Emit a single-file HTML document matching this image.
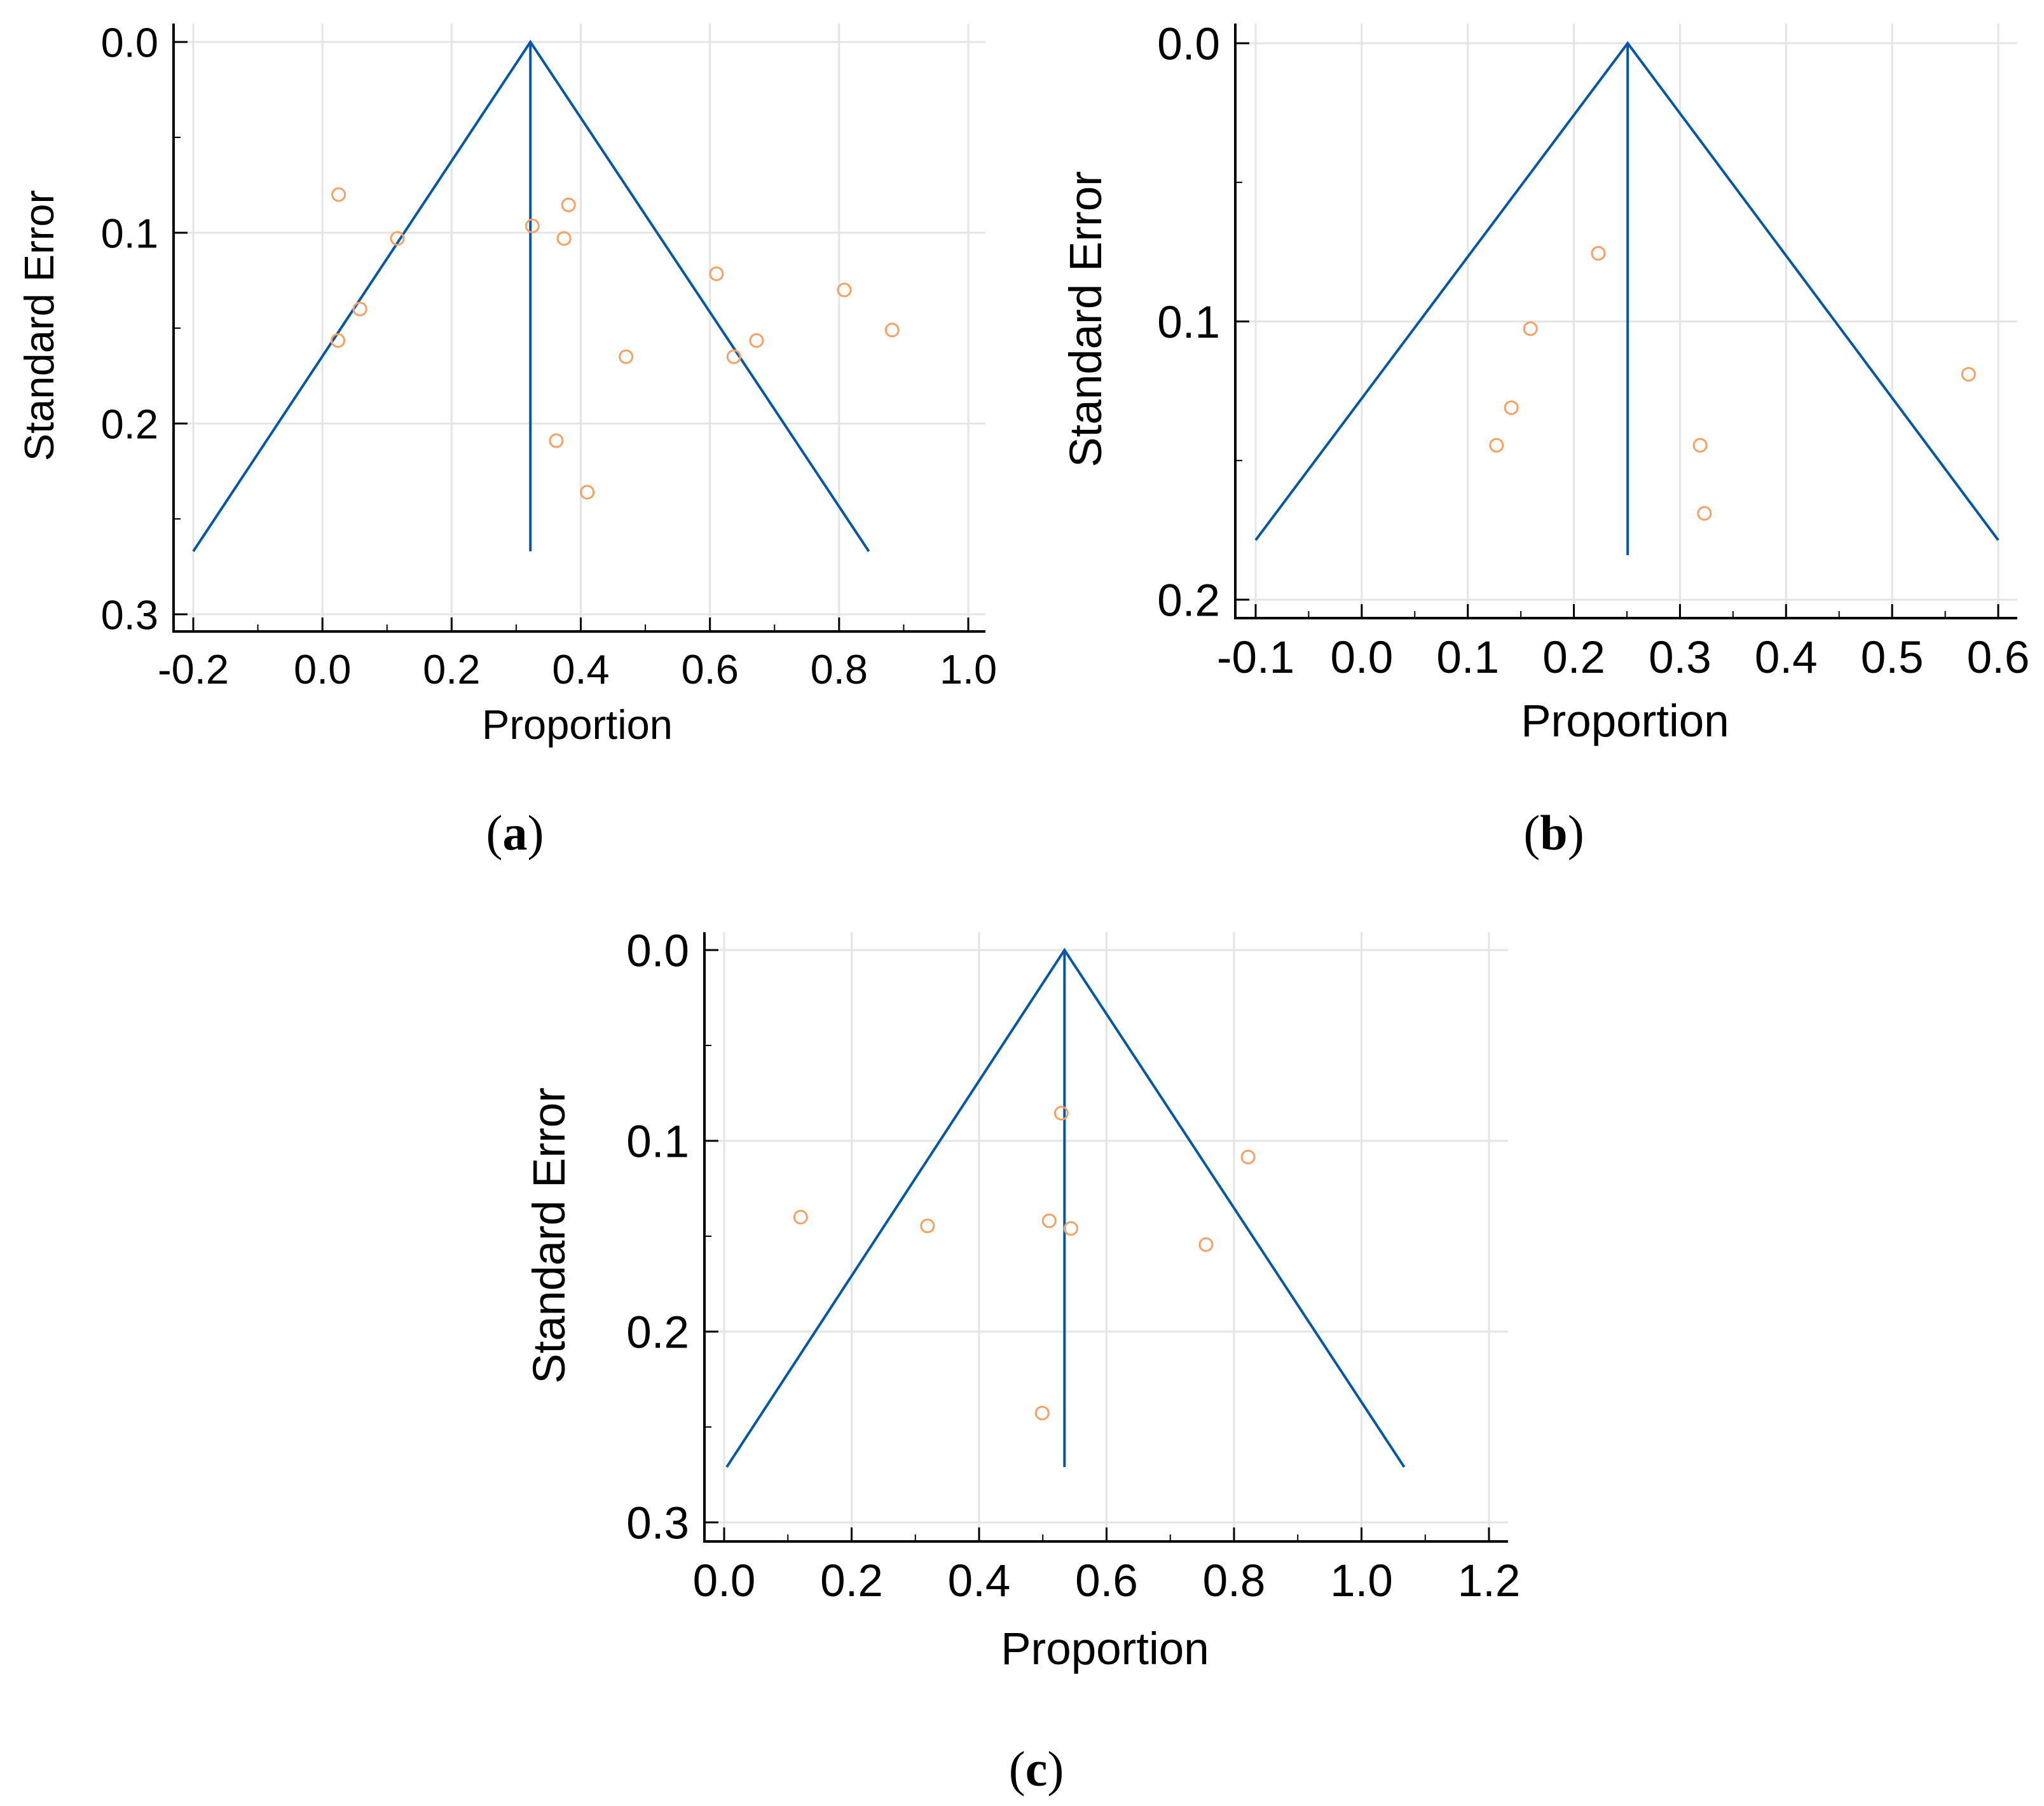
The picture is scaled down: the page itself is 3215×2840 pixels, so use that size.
<!DOCTYPE html>
<html><head><meta charset="utf-8"><style>
html,body{margin:0;padding:0;background:#fff;}
svg{display:block;}
text{font-family:"Liberation Sans",sans-serif;fill:#000;}
.cap{font-family:"Liberation Serif",serif;font-size:78px;}
</style></head><body>
<svg id="fig" width="3215" height="2840" viewBox="0 0 3215 2840" xmlns="http://www.w3.org/2000/svg">
<text class="cap" x="810" y="1336" text-anchor="middle">(<tspan font-weight="bold">a</tspan>)</text>
<text class="cap" x="2444" y="1336" text-anchor="middle">(<tspan font-weight="bold">b</tspan>)</text>
<text class="cap" x="1630" y="2808" text-anchor="middle">(<tspan font-weight="bold">c</tspan>)</text>
</svg>
<script>
// Panel (a)
const aXTicks = ["-0.2","0.0","0.2","0.4","0.6","0.8","1.0"];
const aYTicks = ["0.0","0.1","0.2","0.3"];
const aPropX = [0.025,0.381,0.325,0.374,0.116,0.610,0.808,0.058,0.882,0.024,0.672,0.470,0.637,0.362,0.410];
const aSeY = [0.080,0.0854,0.0964,0.103,0.103,0.1215,0.130,0.140,0.151,0.1565,0.1565,0.165,0.165,0.209,0.236];
const aPooled = [0.322];
const aFunnel = [-0.2, 0.846, 0.267];
// Panel (b)
const bXTicks = ["-0.1","0.0","0.1","0.2","0.3","0.4","0.5","0.6"];
const bYTicks = ["0.0","0.1","0.2"];
const bPropX = [0.223,0.159,0.141,0.127,0.319,0.323,0.572];
const bSeY = [0.0755,0.1026,0.131,0.1445,0.1445,0.169,0.119];
const bPooled = [0.2507];
const bFunnel = [-0.1, 0.6, 0.1786];
// Panel (c)
const cXTicks = ["0.0","0.2","0.4","0.6","0.8","1.0","1.2"];
const cYTicks = ["0.0","0.1","0.2","0.3"];
const cPropX = [0.529,0.822,0.120,0.319,0.510,0.544,0.756,0.499];
const cSeY = [0.0855,0.1085,0.140,0.1446,0.1419,0.1459,0.1544,0.2427];
const cPooled = [0.534];
const cFunnel = [0.004, 1.067, 0.271];

const NS="http://www.w3.org/2000/svg";
const svg=document.getElementById('fig');
function mk(tag,attrs,parent){const e=document.createElementNS(NS,tag);for(const k in attrs)e.setAttribute(k,attrs[k]);(parent||svg).appendChild(e);return e;}

function panel(id,cfg,xTicks,yTicks,px,py,pooled,funnel){
  const g=mk('g',{});
  
  
  const xv=xTicks.map(Number), yv=yTicks.map(Number);
  const x0=xv[0], x1=xv[xv.length-1], y0=yv[0], y1=yv[yv.length-1];
  const X=v=>cfg.px0+(v-x0)/(x1-x0)*(cfg.px1-cfg.px0);
  const Y=v=>cfg.py0+(v-y0)/(y1-y0)*(cfg.py1-cfg.py0);
  const fs=cfg.fs;
  xv.forEach(v=>{const l=mk('line',{x1:X(v),x2:X(v),y1:cfg.top,y2:cfg.axY,stroke:'#e4e4e4','stroke-width':3},g);
    
    });
  yv.forEach(v=>{const l=mk('line',{x1:cfg.axX,x2:cfg.right,y1:Y(v),y2:Y(v),stroke:'#e4e4e4','stroke-width':3},g);
    
    });
  const ax=mk('path',{d:`M${cfg.axX},${cfg.top} V${cfg.axY} H${cfg.right}`,fill:'none',stroke:'#000','stroke-width':4},g);
  
  
  xv.forEach((v,i)=>{
    mk('line',{x1:X(v),x2:X(v),y1:cfg.axY,y2:cfg.axY-22,stroke:'#000','stroke-width':3},g);
    if(i<xv.length-1){const m=(v+xv[i+1])/2;mk('line',{x1:X(m),x2:X(m),y1:cfg.axY,y2:cfg.axY-11,stroke:'#000','stroke-width':2},g);}
    const t=mk('text',{x:X(v),y:cfg.axY+cfg.xlOff,'text-anchor':'middle','font-size':fs},g);t.textContent=xTicks[i];
    
    
  });
  yv.forEach((v,i)=>{
    mk('line',{x1:cfg.axX,x2:cfg.axX+22,y1:Y(v),y2:Y(v),stroke:'#000','stroke-width':3},g);
    if(i<yv.length-1){const m=(v+yv[i+1])/2;mk('line',{x1:cfg.axX,x2:cfg.axX+11,y1:Y(m),y2:Y(m),stroke:'#000','stroke-width':2},g);}
    const t=mk('text',{x:cfg.axX-24,y:Y(v)+fs*0.36,'text-anchor':'end','font-size':fs},g);t.textContent=yTicks[i];
    
    
  });
  const xt=mk('text',{x:cfg.xtx,y:cfg.xty,'text-anchor':'middle','font-size':fs},g);xt.textContent='Proportion';
  
  
  const yt=mk('text',{x:0,y:0,'text-anchor':'middle','font-size':fs,transform:`translate(${cfg.ytx},${cfg.yty}) rotate(-90)`},g);yt.textContent='Standard Error';
  
  
  const p=pooled[0];
  const f=mk('polyline',{points:`${X(funnel[0])},${Y(funnel[2])} ${X(p)},${Y(0)} ${X(funnel[1])},${Y(funnel[2])}`,fill:'none',stroke:'#0457a5','stroke-width':4},g);
  
  
  const vl=mk('line',{x1:X(p),x2:X(p),y1:Y(0),y2:Y(cfg.vEnd),stroke:'#0457a5','stroke-width':4},g);
  
  
  px.forEach((v,i)=>{
    const c=mk('circle',{cx:X(v),cy:Y(py[i]),r:10,fill:'none',stroke:'#f7a064','stroke-width':3},g);
    
    
  });
}
panel('a',{fs:65,xlOff:82,px0:304,px1:1523,py0:66,py1:966,axX:273,axY:993,top:37,right:1550,xtx:908,xty:1162,ytx:84,yty:512,vEnd:0.267},aXTicks,aYTicks,aPropX,aSeY,aPooled,aFunnel);
panel('b',{fs:71,xlOff:86,px0:1975,px1:3143,py0:68,py1:943,axX:1943,axY:972,top:37,right:3173,xtx:2556,xty:1158,ytx:1732,yty:502,vEnd:0.184},bXTicks,bYTicks,bPropX,bSeY,bPooled,bFunnel);
panel('c',{fs:71,xlOff:86,px0:1139,px1:2342,py0:1494,py1:2394,axX:1108,axY:2424,top:1466,right:2372,xtx:1738,xty:2617,ytx:888,yty:1943,vEnd:0.271},cXTicks,cYTicks,cPropX,cSeY,cPooled,cFunnel);
</script>
</body></html>
